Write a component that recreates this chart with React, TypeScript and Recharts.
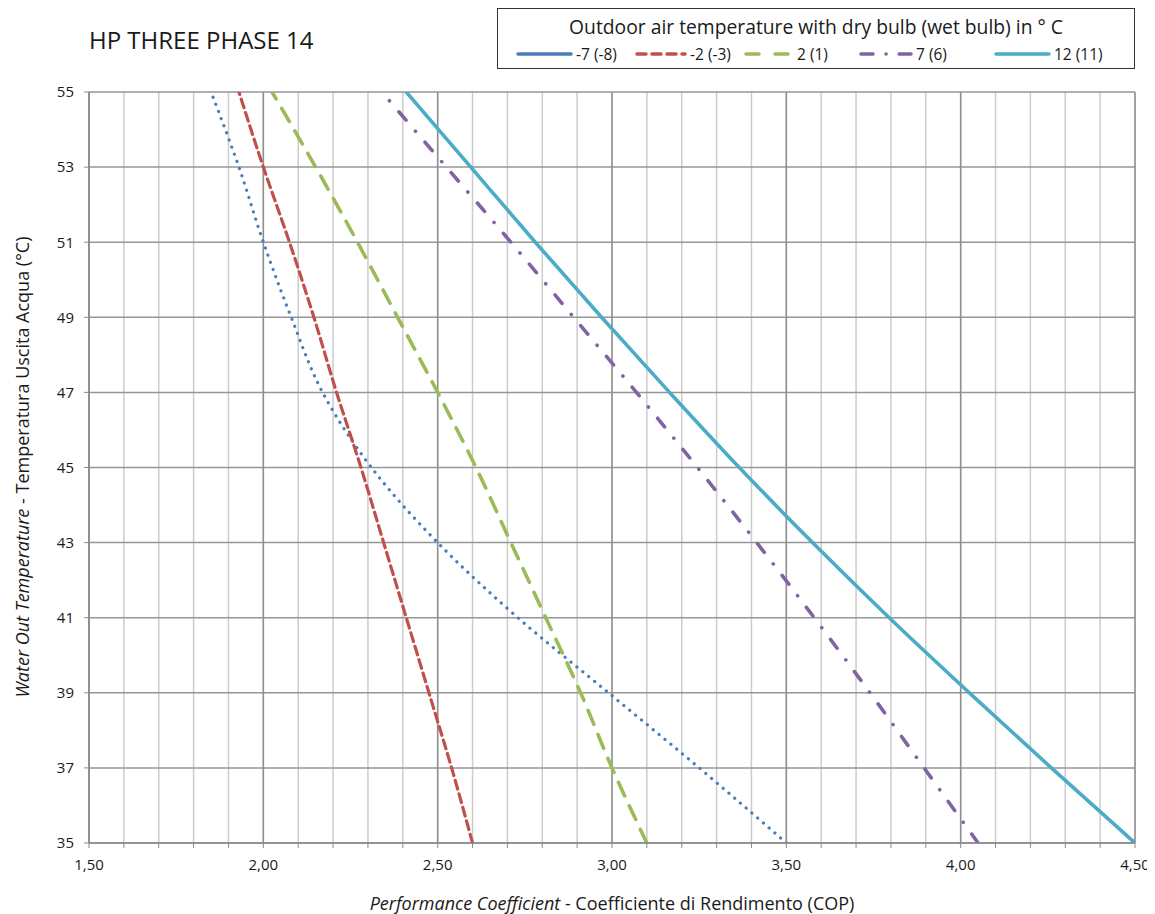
import React from 'react'
import { LineChart, Line, XAxis, YAxis, CartesianGrid, ReferenceLine } from 'recharts'

// water out temperature (°C) – one row per gridline
const temps = [35, 37, 39, 41, 43, 45, 47, 49, 51, 53, 55]

// COP, same order as temps
const copM7 = [3.5, 3.25, 2.99, 2.73, 2.5, 2.31, 2.17, 2.08, 2.0, 1.93, 1.85]
const copM2 = [2.6, 2.54, 2.475, 2.41, 2.345, 2.28, 2.21, 2.145, 2.075, 2.0, 1.93]
const copP2 = [3.1, 3.0, 2.91, 2.81, 2.71, 2.61, 2.5, 2.385, 2.27, 2.15, 2.025]
const copP7 = [4.05, 3.895, 3.74, 3.58, 3.415, 3.245, 3.07, 2.89, 2.71, 2.525, 2.34]
const copP12 = [4.5, 4.26, 4.025, 3.795, 3.575, 3.365, 3.165, 2.97, 2.78, 2.595, 2.41]

const seriesNames = ['-7 (-8)', '-2 (-3)', '2 (1)', '7 (6)', '12 (11)']

const xMajor = [1.5, 2, 2.5, 3, 3.5, 4, 4.5]
const yTicks = [35, 37, 39, 41, 43, 45, 47, 49, 51, 53, 55]

const xMinor: number[] = []
for (let i = 15; i <= 45; i++) xMinor.push(i / 10)

const data = temps.map((t, i) => ({
  t,
  m7: copM7[i],
  m2: copM2[i],
  p2: copP2[i],
  p7: copP7[i],
  p12: copP12[i],
}))

const series = [
  { key: 'm7', color: '#4a7ebb', width: 3.2, dash: '0.1 7.5', legendDash: undefined, lw: 53 },
  { key: 'm2', color: '#c0504d', width: 3.2, dash: '9 5', legendDash: '9 6', lw: 48 },
  { key: 'p2', color: '#9bbb59', width: 3.6, dash: '15 11', legendDash: '13 16', lw: 46 },
  { key: 'p7', color: '#8064a2', width: 3.6, dash: '11 14.5 0.1 14.5', legendDash: '12 13 0.1 13', lw: 50 },
  { key: 'p12', color: '#4bacc6', width: 3.6, dash: undefined, legendDash: undefined, lw: 53 },
]

const font = '"Open Sans", "Noto Sans", sans-serif'

const fmt = (v: number) => {
  const major = Math.abs(v * 2 - Math.round(v * 2)) < 1e-6
  return major ? v.toFixed(2).replace('.', ',') : ''
}

// legend item offsets inside the box
const legendLeft = [18, 137, 246, 361, 496]

function LegendBox() {
  return (
    <div
      style={{
        position: 'absolute',
        left: 489,
        top: 0,
        width: 636,
        height: 59,
        border: '1px solid #333',
        background: '#fff',
      }}
    >
      <div style={{ position: 'absolute', left: 0, right: 0, top: 5, textAlign: 'center', fontSize: 19.3, lineHeight: '26px' }}>
        Outdoor air temperature with dry bulb (wet bulb) in ° C
      </div>
      {series.map((s, i) => (
        <div
          key={s.key}
          style={{ position: 'absolute', left: legendLeft[i], top: 35, display: 'flex', alignItems: 'center', fontSize: 15.5, lineHeight: '20px' }}
        >
          <svg width={s.lw + 4} height={10}>
            <line
              x1={2}
              y1={5}
              x2={s.lw + 2}
              y2={5}
              stroke={s.color}
              strokeWidth={3.5}
              strokeDasharray={s.legendDash}
              strokeLinecap="round"
            />
          </svg>
          <span style={{ marginLeft: 3 }}>{seriesNames[i]}</span>
        </div>
      ))}
    </div>
  )
}

export default function App() {
  return (
    <div style={{ position: 'relative', width: 1147, height: 906, fontFamily: font, color: '#1a1a1a' }}>
      <div style={{ position: 'absolute', left: 81, top: 17, fontSize: 24, lineHeight: '30px' }}>HP THREE PHASE 14</div>
      <LegendBox />
      <div
        style={{
          position: 'absolute',
          left: 14,
          top: 459,
          transform: 'translate(-50%, -50%) rotate(-90deg)',
          whiteSpace: 'nowrap',
          fontSize: 18,
        }}
      >
        <i>Water Out Temperature</i> - Temperatura Uscita Acqua (°C)
      </div>
      <div
        style={{
          position: 'absolute',
          left: 604,
          top: 886,
          transform: 'translateX(-50%)',
          whiteSpace: 'nowrap',
          fontSize: 18,
          lineHeight: '18px',
        }}
      >
        <i>Performance Coefficient</i> - Coefficiente di Rendimento (COP)
      </div>
      <LineChart
        width={1147}
        height={870}
        data={data}
        layout="vertical"
        margin={{ top: 84, right: 20, bottom: 5, left: 0 }}
        style={{ position: 'absolute', left: 0, top: 0 }}
      >
        <CartesianGrid horizontal={false} stroke="#cccccc" strokeWidth={1.5} />
        <CartesianGrid vertical={false} stroke="#969696" strokeWidth={1.5} />
        {xMajor.map((v) => (
          <ReferenceLine key={v} x={v} stroke="#8f8f8f" strokeWidth={1.5} />
        ))}
        <XAxis
          type="number"
          domain={[1.5, 4.5]}
          ticks={xMinor}
          interval={0}
          tickFormatter={fmt}
          height={30}
          axisLine={{ stroke: '#8a8a8a', strokeWidth: 1.5 }}
          tickLine={{ stroke: '#8a8a8a' }}
          tickSize={5}
          tickMargin={11}
          tick={{ fontSize: 15, fill: '#1a1a1a', fontFamily: font }}
          allowDataOverflow
        />
        <YAxis
          type="number"
          dataKey="t"
          domain={[35, 55]}
          ticks={yTicks}
          interval={0}
          reversed
          width={81}
          axisLine={{ stroke: '#8a8a8a', strokeWidth: 1.5 }}
          tickLine={{ stroke: '#8a8a8a' }}
          tickSize={5}
          tickMargin={10}
          tick={{ fontSize: 15, fill: '#1a1a1a', fontFamily: font }}
          allowDataOverflow
        />
        {series.map((s) => (
          <Line
            key={s.key}
            dataKey={s.key}
            type="monotone"
            stroke={s.color}
            strokeWidth={s.width}
            strokeDasharray={s.dash}
            strokeLinecap="round"
            dot={false}
            activeDot={false}
            isAnimationActive={false}
          />
        ))}
      </LineChart>
    </div>
  )
}
